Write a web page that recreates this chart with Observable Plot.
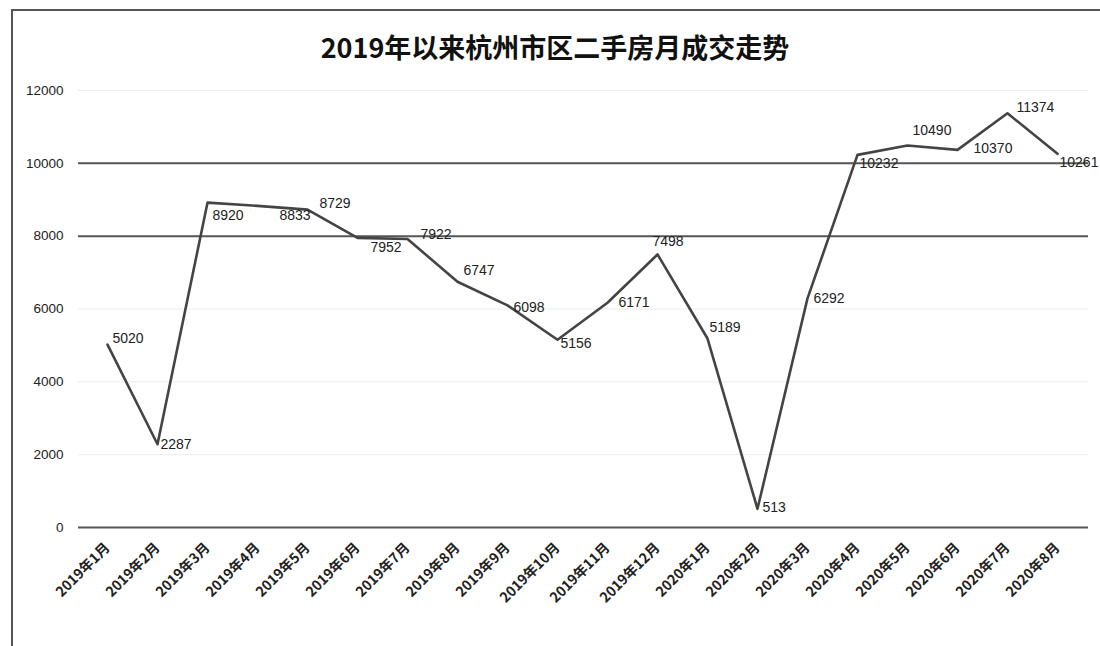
<!DOCTYPE html>
<html>
<head>
<meta charset="utf-8">
<script src="https://cdn.jsdelivr.net/npm/d3@7"></script>
<script src="https://cdn.jsdelivr.net/npm/@observablehq/plot@0.6"></script>
<style>
  html, body { margin: 0; padding: 0; background: #fff; }
  #wrap { position: relative; width: 1100px; height: 646px; overflow: hidden; }
  #frame { position: absolute; left: 11px; top: 9px; width: 1100px; height: 660px;
           border-left: 2px solid #555; border-top: 2px solid #555; pointer-events: none; z-index: 3; }
  #title { position: absolute; left: 0; width: 1110px; top: 27px; text-align: center;
           font-family: "Noto Sans CJK SC", sans-serif; font-weight: 700; font-size: 27px; color: #111; z-index: 2; }
  #chart { position: absolute; left: 0; top: 0; z-index: 1; }
</style>
</head>
<body>
<div id="wrap">
  <div id="frame"></div>
  <div id="title">2019年以来杭州市区二手房月成交走势</div>
  <div id="chart"></div>
</div>
<script>
const months = ["2019年1月","2019年2月","2019年3月","2019年4月","2019年5月","2019年6月","2019年7月","2019年8月","2019年9月","2019年10月","2019年11月","2019年12月","2020年1月","2020年2月","2020年3月","2020年4月","2020年5月","2020年6月","2020年7月","2020年8月"];
const deals = [5020, 2287, 8920, 8833, 8729, 7952, 7922, 6747, 6098, 5156, 6171, 7498, 5189, 513, 6292, 10232, 10490, 10370, 11374, 10261];
const yTicks = [0, 2000, 4000, 6000, 8000, 10000, 12000];
const strongGrid = [0, 8000, 10000];

const data = months.map((m, i) => ({month: m, value: deals[i]}));

// label placement (layout only): [dx, dy] from the point
const labelOffsets = [[5,-6],[3,0],[5,13],[22,10],[12,-6],[13,10],[13,-4],[6,-11],[6,2],[3,4],[11,0],[-5,-13],[2,-11],[5,-1],[6,0],[2,9],[5,-15],[16,-1],[9,-6],[2,9]];

const chart = Plot.plot({
  width: 1100,
  height: 646,
  marginTop: 90,
  marginBottom: 119,
  marginLeft: 78,
  marginRight: 12,
  style: {background: "transparent", fontFamily: "Liberation Sans, Arial, sans-serif"},
  x: {type: "point", domain: months, range: [102, 1062], padding: 0, label: null},
  y: {domain: [0, 12000], label: null},
  marks: [
    Plot.ruleY(yTicks.filter(t => !strongGrid.includes(t)), {stroke: "#ececec", strokeWidth: 1}),
    Plot.ruleY(strongGrid, {stroke: "#555", strokeWidth: 2}),
    Plot.axisY({ticks: yTicks, tickSize: 0, tickPadding: 15, fontSize: 13.5, fill: "#222", tickFormat: d => String(d), label: null}),
    Plot.axisX({tickSize: 0, tickPadding: 18, tickRotate: -45, fontSize: 14, fontWeight: "bold", fill: "#222", fontFamily: "Noto Sans CJK SC, sans-serif", label: null}),
    Plot.line(data, {x: "month", y: "value", stroke: "#444", strokeWidth: 2.6, strokeLinejoin: "round"}),
    ...data.map((d, i) => Plot.text([d], {
      x: "month", y: "value", text: d => String(d.value),
      textAnchor: "start", dx: labelOffsets[i][0], dy: labelOffsets[i][1],
      fontSize: 14, fill: "#222"
    }))
  ]
});
document.getElementById("chart").appendChild(chart);
</script>
</body>
</html>
